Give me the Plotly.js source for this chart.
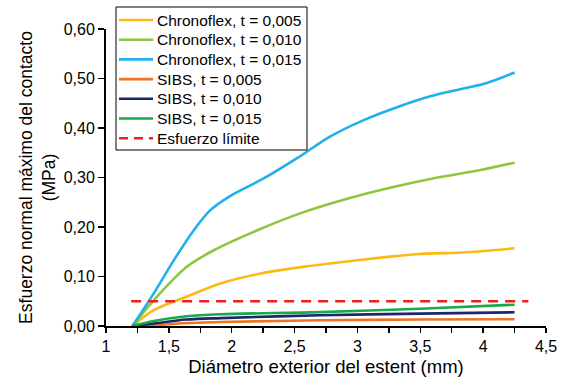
<!DOCTYPE html>
<html>
<head>
<meta charset="utf-8">
<script src="https://cdn.plot.ly/plotly-3.0.1.min.js"></script>
<style>html,body{margin:0;padding:0;background:#fff}#chart{width:563px;height:382px}</style>
</head>
<body>
<div id="chart"></div>
<script>
// Chronoflex series
const cfX005 = [1.21, 1.38, 1.64, 1.91, 2.23, 2.55, 3.0, 3.47, 3.87, 4.25];
const cfY005 = [0, 0.032, 0.059, 0.086, 0.106, 0.119, 0.133, 0.145, 0.149, 0.157];
const cfX010 = [1.21, 1.38, 1.64, 1.85, 2.2, 2.55, 3.08, 3.6, 3.98, 4.25];
const cfY010 = [0, 0.052, 0.119, 0.152, 0.193, 0.228, 0.268, 0.298, 0.315, 0.33];
const cfX015 = [1.21, 1.38, 1.54, 1.70, 1.83, 1.99, 2.254, 2.52, 2.785, 3.05, 3.315, 3.58, 3.845, 4.03, 4.25];
const cfY015 = [0, 0.066, 0.133, 0.194, 0.234, 0.263, 0.298, 0.339, 0.383, 0.416, 0.442, 0.464, 0.480, 0.491, 0.512];
// SIBS series
const sibsX = [1.21, 1.38, 1.64, 1.91, 2.7, 3.5, 4.25];
const sibsY005 = [0, 0.0014, 0.006, 0.008, 0.0115, 0.013, 0.0136];
const sibsY010 = [0, 0.005, 0.013, 0.016, 0.0217, 0.025, 0.0277];
const sibsY015 = [0, 0.010, 0.0196, 0.0237, 0.028, 0.035, 0.043];
// Limit
const limX = [1.2, 4.36];
const limY = [0.05, 0.05];

const names = ["Chronoflex, t = 0,005", "Chronoflex, t = 0,010", "Chronoflex, t = 0,015",
               "SIBS, t = 0,005", "SIBS, t = 0,010", "SIBS, t = 0,015", "Esfuerzo límite"];
const colors = ['#FDB913', '#8DC63F', '#1EB1EC', '#EF7422', '#1B2768', '#17A94B', '#EE1C25'];
const dashes = ['solid', 'solid', 'solid', 'solid', 'solid', 'solid', '10px,7px'];

const xs = [cfX005, cfX010, cfX015, sibsX, sibsX, sibsX, limX];
const ys = [cfY005, cfY010, cfY015, sibsY005, sibsY010, sibsY015, limY];

const data = names.map((n, i) => ({
  x: xs[i], y: ys[i], name: n, type: 'scatter', mode: 'lines', hoverinfo: 'skip',
  line: {color: colors[i], width: 2.6, dash: dashes[i],
         shape: dashes[i] === 'solid' ? 'spline' : 'linear', smoothing: 0.9}
}));

const fam = 'Liberation Sans, Arial, Helvetica, sans-serif';
const M = {l: 106, r: 17, t: 29, b: 56};
const PW = 563 - M.l - M.r, PH = 382 - M.t - M.b;
const px2x = p => (p - M.l) / PW;
const py2y = p => (382 - M.b - p) / PH;

// Legend drawn as shapes + text (positions in pixels of the page)
const legLeft = 116, legRight = 307, legTop = 7, legBottom = 150;
const rowY0 = 20, rowStep = 19.7, sampleX0 = 119, sampleX1 = 153, textX = 155;
const shapes = [{type: 'rect', xref: 'paper', yref: 'paper', layer: 'above',
  x0: px2x(legLeft), x1: px2x(legRight), y0: py2y(legBottom), y1: py2y(legTop),
  line: {color: '#000', width: 1}, fillcolor: '#fff'}];
const annotations = [];
names.forEach((n, i) => {
  const yy = py2y(rowY0 + i * rowStep);
  shapes.push({type: 'line', xref: 'paper', yref: 'paper', layer: 'above',
    x0: px2x(sampleX0), x1: px2x(sampleX1), y0: yy, y1: yy,
    line: {color: colors[i], width: 2.6, dash: dashes[i] === 'solid' ? 'solid' : '9px,6px'}});
  annotations.push({xref: 'paper', yref: 'paper', x: px2x(textX), y: yy,
    xanchor: 'left', yanchor: 'middle', showarrow: false, text: n,
    font: {family: fam, size: 15.5, color: '#000'}});
});

const layout = {
  width: 563, height: 382, margin: M,
  paper_bgcolor: '#fff', plot_bgcolor: '#fff',
  separators: ',.', showlegend: false,
  font: {family: fam, size: 16, color: '#000'},
  shapes: shapes, annotations: annotations,
  xaxis: {
    range: [1, 4.5], dtick: 0.5, tick0: 1, showgrid: false, zeroline: false,
    showline: true, linecolor: '#000', linewidth: 2,
    ticks: 'outside', ticklen: 5, tickwidth: 1.5, tickcolor: '#000',
    minor: {dtick: 0.25, tick0: 1, ticks: 'outside', ticklen: 5, tickwidth: 1.5, tickcolor: '#000', showgrid: false},
    tickfont: {family: fam, size: 16, color: '#000'},
    title: {text: 'Diámetro exterior del estent (mm)', font: {family: fam, size: 18.5, color: '#000'}, standoff: 6}
  },
  yaxis: {
    range: [0, 0.6], dtick: 0.1, tickformat: '.2f', showgrid: false, zeroline: false,
    showline: true, linecolor: '#000', linewidth: 2,
    ticks: 'outside', ticklen: 6, tickwidth: 1.5, tickcolor: '#000',
    tickfont: {family: fam, size: 16, color: '#000'},
    title: {text: 'Esfuerzo normal máximo del contacto<br>(MPa)', font: {family: fam, size: 17.5, color: '#000'}, standoff: 4}
  }
};

Plotly.newPlot('chart', data, layout, {displayModeBar: false, staticPlot: true});
</script>
</body>
</html>
